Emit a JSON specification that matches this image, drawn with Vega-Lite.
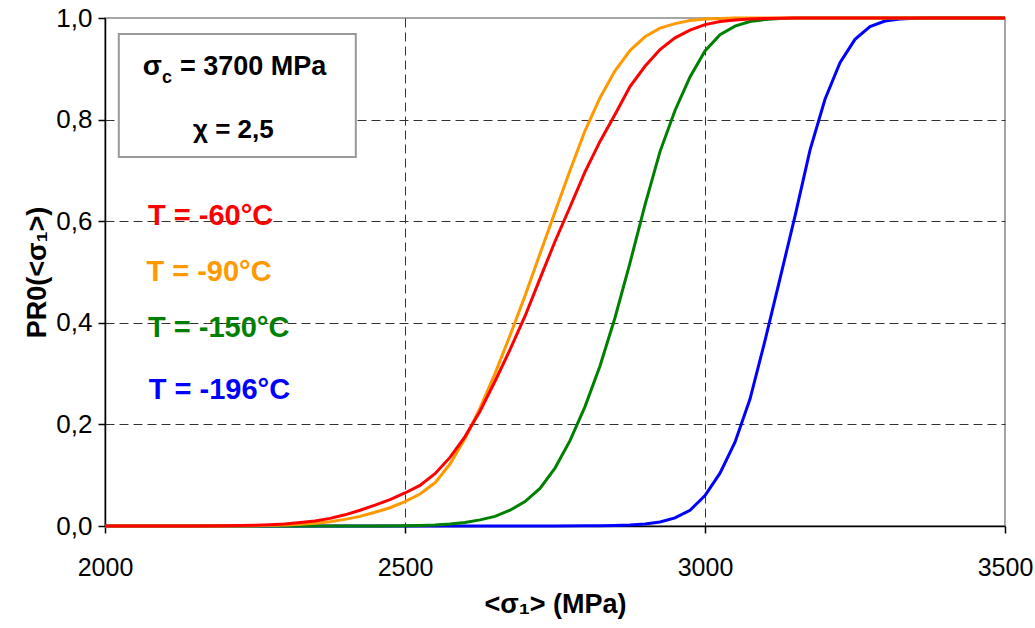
{
  "$schema": "https://vega.github.io/schema/vega-lite/v6.json",
  "width": 900,
  "height": 508,
  "autosize": "none",
  "padding": {"left": 105, "top": 18, "right": 30, "bottom": 102},
  "background": "white",
  "config": {
    "view": {"stroke": "#888888", "strokeWidth": 1.5},
    "font": "Liberation Sans",
    "text": {"font": "Liberation Sans"}
  },
  "datasets": {
    "curves": [
      {"T": "T = -196°C", "s": 2000, "p": 0},
      {"T": "T = -196°C", "s": 2700, "p": 0.0001},
      {"T": "T = -196°C", "s": 2750, "p": 0.0002},
      {"T": "T = -196°C", "s": 2800, "p": 0.0004},
      {"T": "T = -196°C", "s": 2825, "p": 0.0007},
      {"T": "T = -196°C", "s": 2850, "p": 0.0012},
      {"T": "T = -196°C", "s": 2875, "p": 0.0022},
      {"T": "T = -196°C", "s": 2900, "p": 0.004},
      {"T": "T = -196°C", "s": 2925, "p": 0.008},
      {"T": "T = -196°C", "s": 2950, "p": 0.016},
      {"T": "T = -196°C", "s": 2975, "p": 0.031},
      {"T": "T = -196°C", "s": 3000, "p": 0.06},
      {"T": "T = -196°C", "s": 3025, "p": 0.104},
      {"T": "T = -196°C", "s": 3050, "p": 0.165},
      {"T": "T = -196°C", "s": 3075, "p": 0.25},
      {"T": "T = -196°C", "s": 3100, "p": 0.365},
      {"T": "T = -196°C", "s": 3125, "p": 0.487},
      {"T": "T = -196°C", "s": 3150, "p": 0.61},
      {"T": "T = -196°C", "s": 3175, "p": 0.74},
      {"T": "T = -196°C", "s": 3200, "p": 0.84},
      {"T": "T = -196°C", "s": 3225, "p": 0.912},
      {"T": "T = -196°C", "s": 3250, "p": 0.958},
      {"T": "T = -196°C", "s": 3275, "p": 0.983},
      {"T": "T = -196°C", "s": 3300, "p": 0.994},
      {"T": "T = -196°C", "s": 3325, "p": 0.998},
      {"T": "T = -196°C", "s": 3350, "p": 0.9995},
      {"T": "T = -196°C", "s": 3375, "p": 1},
      {"T": "T = -196°C", "s": 3500, "p": 1},

      {"T": "T = -150°C", "s": 2000, "p": 0},
      {"T": "T = -150°C", "s": 2400, "p": 0.0001},
      {"T": "T = -150°C", "s": 2450, "p": 0.0002},
      {"T": "T = -150°C", "s": 2500, "p": 0.0005},
      {"T": "T = -150°C", "s": 2525, "p": 0.001},
      {"T": "T = -150°C", "s": 2550, "p": 0.002},
      {"T": "T = -150°C", "s": 2575, "p": 0.004},
      {"T": "T = -150°C", "s": 2600, "p": 0.007},
      {"T": "T = -150°C", "s": 2625, "p": 0.012},
      {"T": "T = -150°C", "s": 2650, "p": 0.019},
      {"T": "T = -150°C", "s": 2675, "p": 0.031},
      {"T": "T = -150°C", "s": 2700, "p": 0.048},
      {"T": "T = -150°C", "s": 2725, "p": 0.074},
      {"T": "T = -150°C", "s": 2750, "p": 0.114},
      {"T": "T = -150°C", "s": 2775, "p": 0.168},
      {"T": "T = -150°C", "s": 2800, "p": 0.235},
      {"T": "T = -150°C", "s": 2825, "p": 0.315},
      {"T": "T = -150°C", "s": 2850, "p": 0.41},
      {"T": "T = -150°C", "s": 2875, "p": 0.518},
      {"T": "T = -150°C", "s": 2900, "p": 0.632},
      {"T": "T = -150°C", "s": 2925, "p": 0.737},
      {"T": "T = -150°C", "s": 2950, "p": 0.818},
      {"T": "T = -150°C", "s": 2975, "p": 0.884},
      {"T": "T = -150°C", "s": 3000, "p": 0.935},
      {"T": "T = -150°C", "s": 3025, "p": 0.967},
      {"T": "T = -150°C", "s": 3050, "p": 0.984},
      {"T": "T = -150°C", "s": 3075, "p": 0.993},
      {"T": "T = -150°C", "s": 3100, "p": 0.997},
      {"T": "T = -150°C", "s": 3125, "p": 0.999},
      {"T": "T = -150°C", "s": 3150, "p": 1},
      {"T": "T = -150°C", "s": 3500, "p": 1},

      {"T": "T = -90°C", "s": 2000, "p": 0},
      {"T": "T = -90°C", "s": 2150, "p": 0.0001},
      {"T": "T = -90°C", "s": 2200, "p": 0.0002},
      {"T": "T = -90°C", "s": 2250, "p": 0.0007},
      {"T": "T = -90°C", "s": 2300, "p": 0.002},
      {"T": "T = -90°C", "s": 2325, "p": 0.0035},
      {"T": "T = -90°C", "s": 2350, "p": 0.0055},
      {"T": "T = -90°C", "s": 2375, "p": 0.0085},
      {"T": "T = -90°C", "s": 2400, "p": 0.013},
      {"T": "T = -90°C", "s": 2425, "p": 0.019},
      {"T": "T = -90°C", "s": 2450, "p": 0.027},
      {"T": "T = -90°C", "s": 2475, "p": 0.036},
      {"T": "T = -90°C", "s": 2500, "p": 0.048},
      {"T": "T = -90°C", "s": 2525, "p": 0.063},
      {"T": "T = -90°C", "s": 2550, "p": 0.085},
      {"T": "T = -90°C", "s": 2575, "p": 0.122},
      {"T": "T = -90°C", "s": 2600, "p": 0.172},
      {"T": "T = -90°C", "s": 2625, "p": 0.232},
      {"T": "T = -90°C", "s": 2650, "p": 0.3},
      {"T": "T = -90°C", "s": 2675, "p": 0.375},
      {"T": "T = -90°C", "s": 2700, "p": 0.453},
      {"T": "T = -90°C", "s": 2725, "p": 0.536},
      {"T": "T = -90°C", "s": 2750, "p": 0.618},
      {"T": "T = -90°C", "s": 2775, "p": 0.7},
      {"T": "T = -90°C", "s": 2800, "p": 0.778},
      {"T": "T = -90°C", "s": 2825, "p": 0.843},
      {"T": "T = -90°C", "s": 2850, "p": 0.896},
      {"T": "T = -90°C", "s": 2875, "p": 0.936},
      {"T": "T = -90°C", "s": 2900, "p": 0.963},
      {"T": "T = -90°C", "s": 2925, "p": 0.98},
      {"T": "T = -90°C", "s": 2950, "p": 0.989},
      {"T": "T = -90°C", "s": 2975, "p": 0.995},
      {"T": "T = -90°C", "s": 3000, "p": 0.998},
      {"T": "T = -90°C", "s": 3025, "p": 0.999},
      {"T": "T = -90°C", "s": 3050, "p": 1},
      {"T": "T = -90°C", "s": 3500, "p": 1},

      {"T": "T = -60°C", "s": 2000, "p": 0},
      {"T": "T = -60°C", "s": 2100, "p": 0.0001},
      {"T": "T = -60°C", "s": 2150, "p": 0.0002},
      {"T": "T = -60°C", "s": 2200, "p": 0.0005},
      {"T": "T = -60°C", "s": 2250, "p": 0.0015},
      {"T": "T = -60°C", "s": 2275, "p": 0.0025},
      {"T": "T = -60°C", "s": 2300, "p": 0.004},
      {"T": "T = -60°C", "s": 2325, "p": 0.007},
      {"T": "T = -60°C", "s": 2350, "p": 0.01},
      {"T": "T = -60°C", "s": 2375, "p": 0.015},
      {"T": "T = -60°C", "s": 2400, "p": 0.022},
      {"T": "T = -60°C", "s": 2425, "p": 0.031},
      {"T": "T = -60°C", "s": 2450, "p": 0.041},
      {"T": "T = -60°C", "s": 2475, "p": 0.052},
      {"T": "T = -60°C", "s": 2500, "p": 0.065},
      {"T": "T = -60°C", "s": 2525, "p": 0.08},
      {"T": "T = -60°C", "s": 2550, "p": 0.103},
      {"T": "T = -60°C", "s": 2575, "p": 0.135},
      {"T": "T = -60°C", "s": 2600, "p": 0.176},
      {"T": "T = -60°C", "s": 2625, "p": 0.226},
      {"T": "T = -60°C", "s": 2650, "p": 0.285},
      {"T": "T = -60°C", "s": 2675, "p": 0.347},
      {"T": "T = -60°C", "s": 2700, "p": 0.413},
      {"T": "T = -60°C", "s": 2725, "p": 0.487},
      {"T": "T = -60°C", "s": 2750, "p": 0.56},
      {"T": "T = -60°C", "s": 2775, "p": 0.628},
      {"T": "T = -60°C", "s": 2800, "p": 0.697},
      {"T": "T = -60°C", "s": 2825, "p": 0.757},
      {"T": "T = -60°C", "s": 2850, "p": 0.81},
      {"T": "T = -60°C", "s": 2875, "p": 0.865},
      {"T": "T = -60°C", "s": 2900, "p": 0.905},
      {"T": "T = -60°C", "s": 2925, "p": 0.938},
      {"T": "T = -60°C", "s": 2950, "p": 0.961},
      {"T": "T = -60°C", "s": 2975, "p": 0.976},
      {"T": "T = -60°C", "s": 3000, "p": 0.987},
      {"T": "T = -60°C", "s": 3025, "p": 0.993},
      {"T": "T = -60°C", "s": 3050, "p": 0.996},
      {"T": "T = -60°C", "s": 3075, "p": 0.998},
      {"T": "T = -60°C", "s": 3100, "p": 0.999},
      {"T": "T = -60°C", "s": 3150, "p": 1},
      {"T": "T = -60°C", "s": 3500, "p": 1}
    ],
    "labels": [
      {"T": "T = -60°C", "s": 2071.7, "p": 0.5925},
      {"T": "T = -90°C", "s": 2069, "p": 0.4829},
      {"T": "T = -150°C", "s": 2071.7, "p": 0.3726},
      {"T": "T = -196°C", "s": 2073, "p": 0.25}
    ]
  },
  "layer": [
    {
      "data": {"name": "curves"},
      "mark": {"type": "line", "strokeWidth": 3},
      "encoding": {
        "x": {
          "field": "s",
          "type": "quantitative",
          "scale": {"domain": [2000, 3500], "nice": false, "zero": false},
          "axis": {
            "values": [2000, 2500, 3000, 3500],
            "format": "d",
            "title": "<σ₁> (MPa)",
            "titleFont": "Liberation Sans",
            "titleFontSize": 27,
            "titleFontWeight": "bold",
            "titleColor": "black",
            "titlePadding": 11,
            "labelFont": "Liberation Sans",
            "labelFontSize": 25,
            "labelColor": "black",
            "labelPadding": 22,
            "labelFlush": false,
            "tickSize": 7,
            "tickColor": "black",
            "tickWidth": 1.5,
            "domainColor": "black",
            "domainWidth": 1.5,
            "gridColor": "#333333",
            "gridDash": [9, 5],
            "gridWidth": 1,
            "gridOpacity": {"condition": {"test": "datum.value == 2000 || datum.value == 3500", "value": 0}, "value": 1}
          }
        },
        "y": {
          "field": "p",
          "type": "quantitative",
          "scale": {"domain": [0, 1], "nice": false},
          "axis": {
            "values": [0, 0.2, 0.4, 0.6, 0.8, 1],
            "labelExpr": "replace(format(datum.value, '.1f'), '.', ',')",
            "title": "PR0(<σ₁>)",
            "titleFont": "Liberation Sans",
            "titleFontSize": 27,
            "titleFontWeight": "bold",
            "titleColor": "black",
            "titlePadding": 4,
            "labelFont": "Liberation Sans",
            "labelFontSize": 26,
            "labelColor": "black",
            "labelPadding": 6,
            "labelFlush": false,
            "tickSize": 7,
            "tickColor": "black",
            "tickWidth": 1.5,
            "domainColor": "black",
            "domainWidth": 1.5,
            "gridColor": "#333333",
            "gridDash": [9, 5],
            "gridWidth": 1,
            "gridOpacity": {"condition": {"test": "datum.value == 0 || datum.value == 1", "value": 0}, "value": 1}
          }
        },
        "color": {
          "field": "T",
          "type": "nominal",
          "scale": {
            "domain": ["T = -196°C", "T = -150°C", "T = -90°C", "T = -60°C"],
            "range": ["#0000FF", "#008000", "#FF9900", "#FF0000"]
          },
          "legend": null
        }
      }
    },
    {
      "data": {"values": [{}]},
      "mark": {"type": "rect", "fill": "white", "stroke": "#999999", "strokeWidth": 2},
      "encoding": {
        "x": {"datum": 2023, "type": "quantitative"},
        "x2": {"datum": 2418},
        "y": {"datum": 0.9685, "type": "quantitative"},
        "y2": {"datum": 0.7264}
      }
    },
    {
      "data": {"values": [{}]},
      "mark": {"type": "text", "text": "σ", "align": "left", "baseline": "alphabetic", "fontSize": 28, "fontWeight": "bold", "color": "black", "font": "Liberation Sans"},
      "encoding": {
        "x": {"datum": 2063, "type": "quantitative"},
        "y": {"datum": 0.8878, "type": "quantitative"}
      }
    },
    {
      "data": {"values": [{}]},
      "mark": {"type": "text", "text": "c", "align": "left", "baseline": "alphabetic", "fontSize": 18, "fontWeight": "bold", "color": "black", "font": "Liberation Sans"},
      "encoding": {
        "x": {"datum": 2095, "type": "quantitative"},
        "y": {"datum": 0.873, "type": "quantitative"}
      }
    },
    {
      "data": {"values": [{}]},
      "mark": {"type": "text", "text": "= 3700 MPa", "align": "left", "baseline": "alphabetic", "fontSize": 27, "fontWeight": "bold", "color": "black", "font": "Liberation Sans"},
      "encoding": {
        "x": {"datum": 2125, "type": "quantitative"},
        "y": {"datum": 0.8878, "type": "quantitative"}
      }
    },
    {
      "data": {"values": [{}]},
      "mark": {"type": "text", "text": "χ = 2,5", "align": "center", "baseline": "alphabetic", "fontSize": 26, "fontWeight": "bold", "color": "black", "font": "Liberation Sans"},
      "encoding": {
        "x": {"datum": 2214, "type": "quantitative"},
        "y": {"datum": 0.763, "type": "quantitative"}
      }
    },
    {
      "data": {"name": "labels"},
      "mark": {"type": "text", "align": "left", "baseline": "alphabetic", "fontSize": 29, "fontWeight": "bold", "font": "Liberation Sans"},
      "encoding": {
        "x": {"field": "s", "type": "quantitative"},
        "y": {"field": "p", "type": "quantitative"},
        "text": {"field": "T"},
        "color": {"field": "T", "type": "nominal", "legend": null}
      }
    }
  ]
}
